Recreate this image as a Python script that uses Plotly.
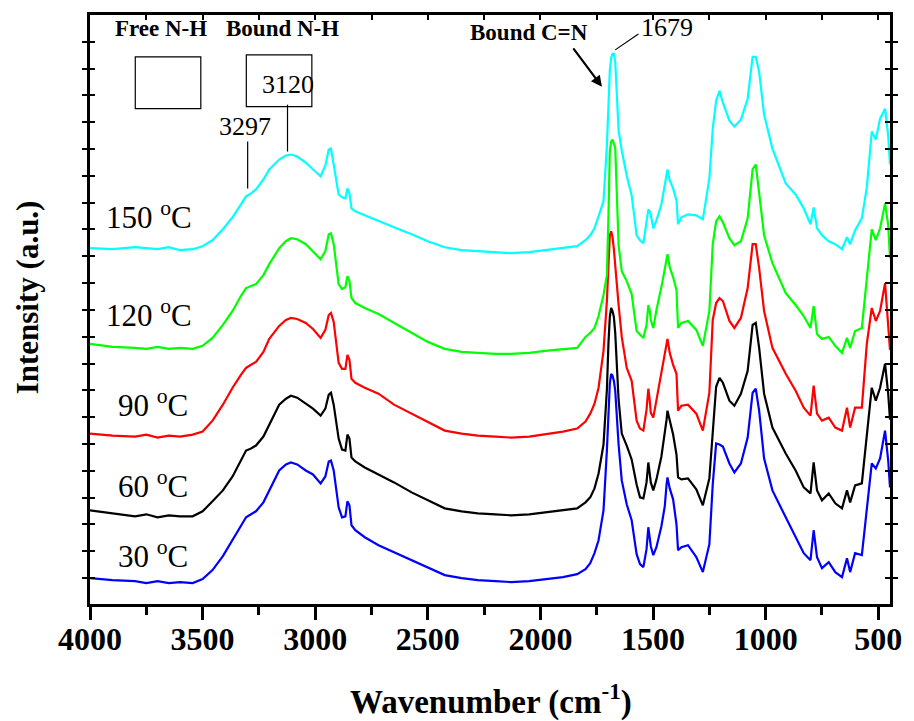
import plotly.graph_objects as go

# ---------------- data ----------------
wavenumber = [4000, 3900, 3800, 3750, 3700, 3650, 3600, 3544, 3500, 3456,
              3410, 3367, 3330, 3307, 3285, 3263, 3230, 3204, 3160, 3130,
              3108, 3080, 3042, 3010, 2976, 2955, 2940, 2930, 2918, 2896,
              2881, 2866, 2857, 2848, 2839, 2822, 2780, 2719, 2650, 2572,
              2500, 2425, 2350, 2278, 2200, 2131, 2050, 1980, 1900, 1837,
              1800, 1779, 1760, 1742, 1720, 1705, 1698, 1692, 1686, 1680,
              1674, 1668, 1653, 1639, 1617, 1595, 1573, 1558, 1543, 1529,
              1521, 1515, 1510, 1499, 1485, 1463, 1448, 1440, 1436, 1426,
              1411, 1396, 1389, 1374, 1345, 1308, 1279, 1250, 1235, 1220,
              1205, 1190, 1161, 1139, 1110, 1080, 1058, 1044, 1029, 1007,
              970, 911, 867, 831, 801, 787, 772, 750, 720, 691,
              661, 639, 625, 603, 573, 551, 529, 511, 492, 470,
              456, 448]

int_30C = [26, 24, 23, 21, 23, 21, 22, 21, 25, 34,
           48, 64, 78, 87, 90, 93, 102, 114, 134, 140,
           142, 140, 134, 130, 121, 128, 143, 144, 134, 97,
           87, 88, 103, 99, 79, 74, 67, 59, 52, 44,
           37, 29, 26, 24, 23, 22, 23, 25, 27, 30,
           35, 41, 51, 64, 94, 154, 199, 221, 231, 229,
           224, 214, 160, 124, 100, 84, 50, 40, 37, 55,
           77, 66, 58, 49, 57, 78, 98, 120, 127, 116,
           105, 80, 54, 57, 59, 47, 32, 60, 120, 161,
           160, 158, 141, 132, 141, 167, 212, 216, 194, 146,
           114, 87, 67, 51, 44, 74, 47, 36, 42, 32,
           27, 46, 32, 51, 49, 95, 141, 136, 146, 174,
           144, 117]

int_60C = [94, 91, 88, 90, 87, 89, 88, 88, 93, 103,
           114, 128, 145, 154, 156, 159, 168, 180, 200, 206,
           209, 207, 201, 196, 189, 196, 210, 212, 200, 166,
           155, 154, 170, 166, 147, 143, 137, 130, 122, 112,
           104, 96, 93, 91, 90, 89, 90, 92, 94, 96,
           102, 107, 116, 131, 160, 215, 262, 288, 297, 294,
           288, 272, 205, 171, 159, 145, 120, 107, 106, 122,
           142, 132, 122, 114, 125, 148, 170, 185, 194, 184,
           170, 150, 127, 125, 126, 115, 99, 126, 168, 218,
           227, 222, 204, 199, 211, 234, 280, 282, 257, 211,
           177, 151, 134, 117, 111, 142, 114, 104, 111, 101,
           96, 114, 102, 119, 121, 172, 217, 204, 217, 241,
           211, 185]

int_90C = [171, 169, 168, 170, 167, 169, 168, 170, 173, 184,
           200, 217, 230, 237, 240, 243, 253, 266, 279, 285,
           287, 286, 282, 276, 267, 275, 290, 292, 283, 242,
           236, 236, 250, 245, 226, 222, 217, 211, 200, 191,
           182, 174, 171, 169, 168, 167, 168, 170, 173, 176,
           183, 191, 201, 217, 254, 304, 345, 370, 374, 368,
           356, 338, 300, 268, 237, 224, 184, 176, 174, 195,
           216, 205, 192, 187, 204, 231, 250, 262, 266, 252,
           240, 231, 194, 199, 200, 191, 174, 212, 285, 302,
           307, 304, 284, 277, 287, 317, 361, 361, 337, 294,
           257, 231, 214, 197, 189, 219, 191, 184, 187, 177,
           174, 197, 177, 197, 197, 261, 297, 284, 294, 322,
           277, 255]

int_120C = [261, 258, 257, 256, 258, 256, 257, 256, 259, 267,
            280, 294, 309, 317, 319, 321, 330, 341, 357, 364,
            367, 366, 361, 354, 346, 354, 371, 372, 361, 321,
            316, 318, 329, 324, 307, 302, 297, 291, 282, 272,
            263, 256, 253, 252, 251, 251, 252, 254, 256, 257,
            268, 272, 277, 289, 310, 330, 390, 454, 464, 466,
            462, 458, 360, 334, 324, 311, 274, 270, 267, 280,
            300, 295, 285, 277, 295, 318, 335, 345, 351, 338,
            328, 315, 277, 282, 284, 275, 259, 294, 361, 384,
            389, 383, 367, 360, 364, 387, 436, 441, 414, 370,
            342, 312, 300, 289, 277, 299, 271, 266, 268, 259,
            252, 267, 257, 274, 277, 330, 376, 365, 377, 402,
            380, 347]

int_150C = [357, 356, 358, 357, 356, 358, 355, 356, 359, 365,
            376, 388, 401, 409, 412, 416, 426, 436, 446, 450,
            451, 449, 443, 436, 429, 440, 456, 457, 440, 411,
            408, 407, 417, 412, 397, 394, 390, 384, 378, 371,
            364, 358, 355, 354, 353, 352, 353, 355, 357, 359,
            365, 370, 377, 390, 404, 460, 500, 535, 548, 552,
            552, 544, 475, 455, 430, 410, 370, 365, 362, 385,
            396, 394, 390, 377, 385, 401, 420, 432, 436, 425,
            417, 405, 381, 388, 391, 390, 386, 427, 477, 505,
            515, 503, 485, 479, 486, 507, 549, 549, 534, 491,
            457, 422, 411, 397, 381, 398, 377, 370, 364, 361,
            356, 368, 361, 375, 387, 418, 474, 466, 487, 497,
            470, 441]

series_labels = ["30 <sup>o</sup>C", "60 <sup>o</sup>C", "90 <sup>o</sup>C",
                 "120 <sup>o</sup>C", "150 <sup>o</sup>C"]
series_values = [int_30C, int_60C, int_90C, int_120C, int_150C]
series_colors = ["#0000FF", "#000000", "#FF0000", "#00FF00", "#00FFFF"]

x_tick_vals = [4000, 3500, 3000, 2500, 2000, 1500, 1000, 500]

FONT = "Liberation Serif"

fig = go.Figure()
for vals, col in zip(series_values, series_colors):
    fig.add_trace(go.Scatter(x=wavenumber, y=vals, mode="lines",
                             line=dict(color=col, width=2.2),
                             showlegend=False, hoverinfo="skip"))
# helper trace so the top mirror axis is drawn
fig.add_trace(go.Scatter(x=[4000], y=[None], xaxis="x2", mode="lines",
                         showlegend=False, hoverinfo="skip"))

fig.update_layout(
    width=914, height=721,
    margin=dict(l=90, r=19, t=13, b=117),
    paper_bgcolor="white", plot_bgcolor="white",
    xaxis=dict(range=[4000, 448], tickvals=x_tick_vals,
               ticktext=[str(v) for v in x_tick_vals],
               ticks="outside", ticklen=13, tickwidth=2.5, tickcolor="black",
               ticklabelstandoff=-8,
               showline=True, linewidth=3, linecolor="black", mirror=True,
               showgrid=False, zeroline=False,
               tickfont=dict(family=FONT, size=32, color="black", weight="bold"),
               minor=dict(tickvals=[3750, 3250, 2750, 2250, 1750, 1250, 750],
                          ticks="outside", ticklen=8, tickwidth=2.5, tickcolor="black")),
    xaxis2=dict(overlaying="x", side="top", range=[4000, 448],
                dtick=250, tick0=500, ticks="inside", ticklen=5, tickwidth=1.5,
                tickcolor="black", showticklabels=False, showline=False,
                showgrid=False, zeroline=False),
    yaxis=dict(range=[0, 591], showticklabels=False, ticks="inside",
               ticklen=5, tickwidth=1.5, tickcolor="black",
               tick0=26.1, dtick=26.9, mirror="allticks",
               showline=True, linewidth=3, linecolor="black",
               showgrid=False, zeroline=False),
)

ann = []
# axis titles
ann.append(dict(text="<b>Wavenumber (cm<sup>-1</sup>)</b>", xref="paper", yref="paper",
                x=0.501, y=-0.162, xanchor="center", yanchor="middle", showarrow=False,
                font=dict(family=FONT, size=33, color="black")))
ann.append(dict(text="<b>Intensity (a.u.)</b>", xref="paper", yref="paper",
                x=-0.078, y=0.52, xanchor="center", yanchor="middle", showarrow=False,
                textangle=-90, font=dict(family=FONT, size=31, color="black")))
# temperature labels
label_pos = [(3883, 50), (3883, 120), (3883, 201), (3940, 291), (3940, 390)]
for lab, (lx, ly) in zip(series_labels, label_pos):
    ann.append(dict(text=lab, x=lx, y=ly, xref="x", yref="y", xanchor="left",
                    yanchor="middle", showarrow=False,
                    font=dict(family=FONT, size=31, color="black")))
# band annotations
for txt, tx, ty, bold, sz in [("Free N-H", 3687, 577, True, 23),
                              ("Bound N-H", 3145, 577, True, 23),
                              ("Bound C=N", 2050, 573, True, 23),
                              ("3120", 3120, 521, False, 26),
                              ("3297", 3314, 479, False, 26),
                              ("1679", 1440, 578, False, 26)]:
    ann.append(dict(text=("<b>%s</b>" % txt) if bold else txt, x=tx, y=ty,
                    xref="x", yref="y", xanchor="center", yanchor="middle",
                    showarrow=False, font=dict(family=FONT, size=sz, color="black")))
# arrow to the C=N band
ann.append(dict(text="", x=1727, y=519, ax=1859, ay=559, xref="x", yref="y",
                axref="x", ayref="y", showarrow=True, arrowhead=2, arrowsize=1,
                arrowwidth=2.2, arrowcolor="black"))
fig.update_layout(annotations=ann)

shapes = [
    dict(type="rect", x0=3799, x1=3508, y0=497, y1=549, xref="x", yref="y",
         line=dict(color="black", width=1.2)),
    dict(type="rect", x0=3306, x1=3015, y0=499, y1=551, xref="x", yref="y",
         line=dict(color="black", width=1.2)),
    dict(type="line", x0=3123, x1=3123, y0=454, y1=501, xref="x", yref="y",
         line=dict(color="black", width=1.2)),
    dict(type="line", x0=3300, x1=3300, y0=417, y1=464, xref="x", yref="y",
         line=dict(color="black", width=1.2)),
    dict(type="line", x0=1668, x1=1565, y0=556, y1=572, xref="x", yref="y",
         line=dict(color="black", width=1.2)),
]
fig.update_layout(shapes=shapes)

fig.write_html("out.html")
